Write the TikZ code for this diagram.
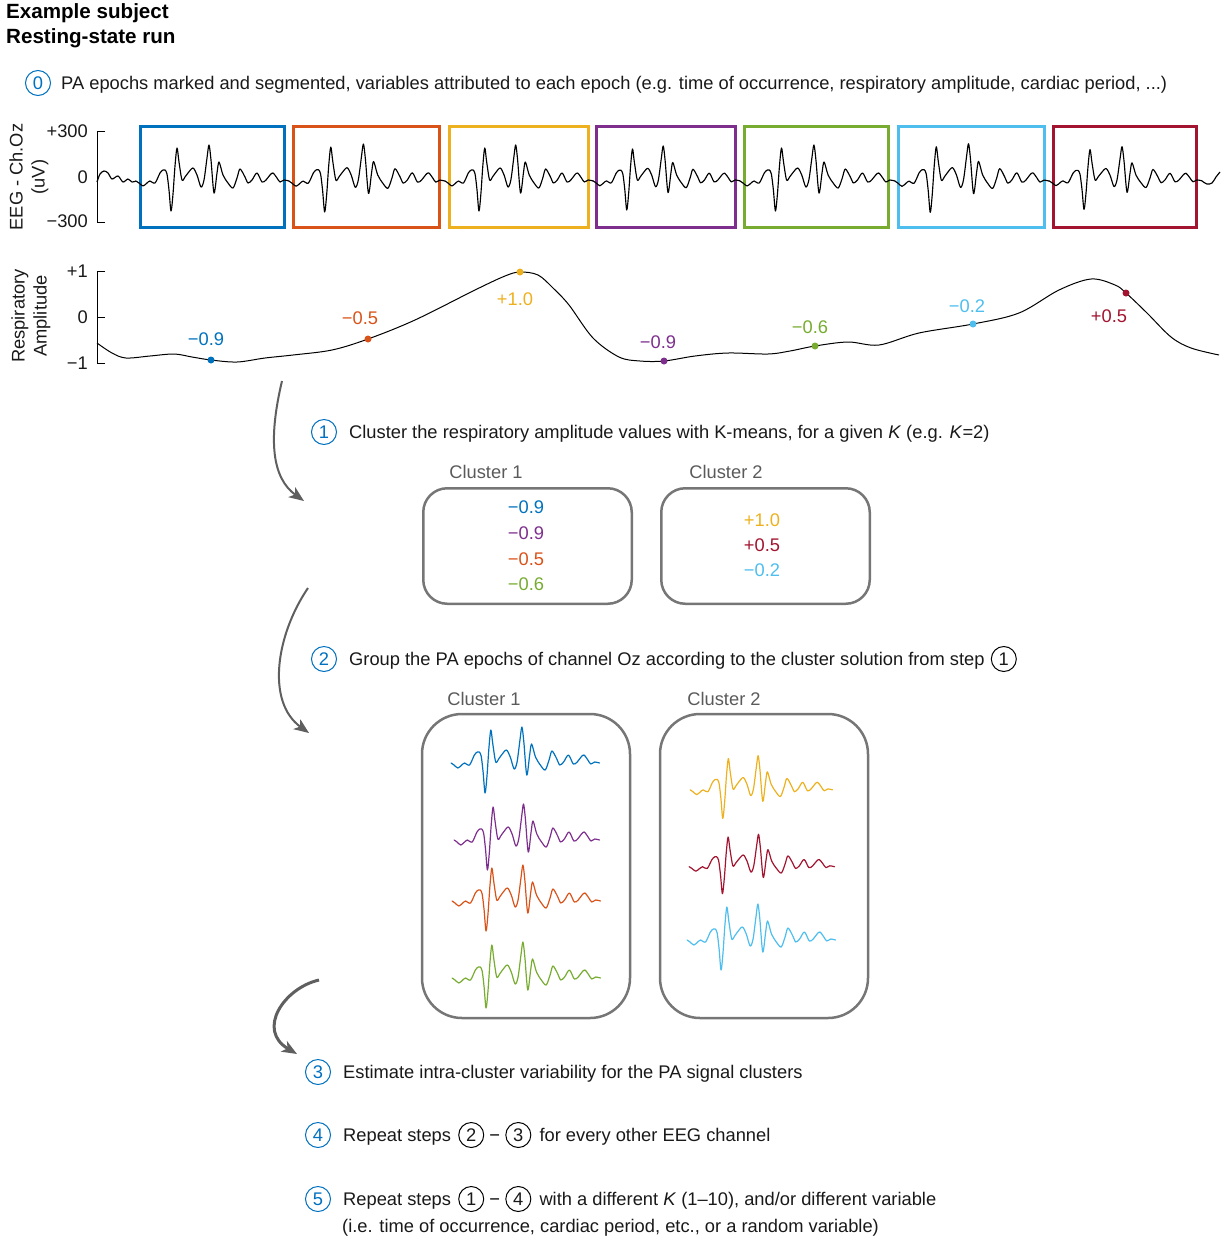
\documentclass[tikz,border=0pt]{standalone}
\usepackage{fontspec}
\setmainfont{Liberation Sans}
\usetikzlibrary{arrows.meta,positioning}
\definecolor{cblue}{RGB}{0,114,189}
\definecolor{corange}{RGB}{217,83,25}
\definecolor{cyellow}{RGB}{237,177,32}
\definecolor{cpurple}{RGB}{126,47,142}
\definecolor{cgreen}{RGB}{119,172,48}
\definecolor{clblue}{RGB}{77,190,238}
\definecolor{cred}{RGB}{162,20,47}
\definecolor{stepblue}{RGB}{0,112,192}
\definecolor{boxgray}{RGB}{118,118,118}
\definecolor{labgray}{RGB}{90,90,90}
\definecolor{arrgray}{RGB}{95,95,95}
\definecolor{txtc}{RGB}{25,25,25}
\tikzset{
  pawave/.pic={\draw[line join=round,line cap=round] plot[smooth,tension=0.5] coordinates {(-3,3) (0,5) (4,8) (8,5) (11,3) (16,5) (21,-5) (24,-8) (26,-8) (28,-4) (30,12) (32,33) (34,16) (36,-12) (38,-30) (40,-16) (43,2) (46,-1) (49,-5) (54,-10) (58,-3) (62,9) (65,2) (68,-20) (70,-33) (72,-18) (75,15) (78,-5) (80,-16) (84,-3) (89,5) (94,10) (98,0) (101,-9) (106,-1) (109,5) (113,2) (118,-5) (123,4) (127,2) (131,-3) (134,-5) (138,0) (141,4) (145,2) (150,3)};}
}
\begin{document}
\begin{tikzpicture}[x=1pt,y=-1pt,
  font=\fontsize{18.3}{22}\selectfont,
  txt/.style={inner sep=0pt, anchor=west, text height=13.1pt, text depth=0pt, text=txtc},
  ctxt/.style={inner sep=0pt, text height=13.1pt, text depth=0pt},
  stepc/.style={circle, draw=stepblue, text=stepblue, line width=1pt, minimum size=25pt, inner sep=0pt, text height=13.1pt, text depth=0pt},
  refc/.style={circle, draw=black, text=txtc, line width=1pt, minimum size=25pt, inner sep=0pt, text height=13.1pt, text depth=0pt},
  epoch/.style={draw, line width=3pt, minimum height=101pt, inner sep=0pt},
  cbox/.style={draw=boxgray, line width=2.5pt, inner sep=0pt},
  dot/.style={circle, inner sep=0pt, minimum size=7pt},
  axis/.style={line width=1pt, black},
  flow/.style={draw=arrgray, line width=2pt, -{Stealth[length=15pt,width=12pt,inset=4pt]}},
  wave/.style={line width=1.15pt},
  cwave/.style={line width=1.2pt}
]
\path[use as bounding box] (0,0) rectangle (1226,1248);

% title
\node[txt, font=\fontsize{20.6}{24}\selectfont\bfseries, text=black] (t1) at (6,12) {Example subject};
\node[txt, font=\fontsize{20.6}{24}\selectfont\bfseries, text=black] (t2) at (6,37) {Resting-state run};

% step 0
\node[stepc] (c0) at (38,83) {0};
\node[txt] (s0) at (61,83) {PA epochs marked and segmented, variables attributed to each epoch (e.g. time of occurrence, respiratory amplitude, cardiac period, ...)};

% EEG axis
\draw[axis] (105,131) -- (97,131) -- (97,222) -- (105,222);
\node[ctxt, anchor=east, text=txtc] (yl1) at (88,131) {+300};
\node[ctxt, anchor=east, text=txtc] (yl2) at (88,177) {0};
\node[ctxt, anchor=east, text=txtc] (yl3) at (88,221) {−300};
\node[rotate=90, align=center, inner sep=0pt, text=txtc] (eegl) at (29,177) {EEG - Ch.Oz\\(uV)};

% epoch boxes
\node[epoch, draw=cblue, minimum width=144pt] (e1) at (212.5,177) {};
\node[epoch, draw=corange, minimum width=146pt] (e2) at (366.5,177) {};
\node[epoch, draw=cyellow, minimum width=139pt] (e3) at (519,177) {};
\node[epoch, draw=cpurple, minimum width=139pt] (e4) at (666,177) {};
\node[epoch, draw=cgreen, minimum width=144pt] (e5) at (816.5,177) {};
\node[epoch, draw=clblue, minimum width=146pt] (e6) at (971.5,177) {};
\node[epoch, draw=cred, minimum width=143pt] (e7) at (1125,177) {};

% EEG trace
\draw[wave, line join=round] plot[smooth,tension=0.5] coordinates {(97,182) (100,174) (104,171) (108,173) (112,179) (118,176) (123,182) (128,179) (132,182) (136,181)};
\pic[wave, xscale=1.0] at (139,178) {pawave};
\pic[wave, xscale=1.02, yscale=1.03] at (292,178) {pawave};
\pic[wave, xscale=0.967] at (448,178) {pawave};
\pic[wave, xscale=0.96, yscale=0.97] at (596,178) {pawave};
\pic[wave, xscale=1.013] at (743,178) {pawave};
\pic[wave, xscale=1.007, yscale=1.04] at (898,178) {pawave};
\pic[wave, xscale=1.0, yscale=0.95] at (1052,178) {pawave};
\draw[wave, line join=round] plot[smooth,tension=0.5] coordinates {(1202,181) (1207,184) (1212,183) (1216,177) (1220,172)};

% respiratory axis
\draw[axis] (105,271) -- (97,271) -- (97,363) -- (105,363);
\draw[axis] (97,317) -- (105,317);
\node[ctxt, anchor=east, text=txtc] (rl1) at (88,271) {+1};
\node[ctxt, anchor=east, text=txtc] (rl2) at (88,317) {0};
\node[ctxt, anchor=east, text=txtc] (rl3) at (88,363) {−1};
\node[rotate=90, align=center, inner sep=0pt, text=txtc] (respl) at (31,316) {Respiratory\\Amplitude};

\draw[line width=1pt, black] plot[smooth,tension=0.55] coordinates {(97,343) (112,353) (126,358) (150,356) (174,354) (192,357) (211,360) (237,362) (265,358) (293,355) (332,350) (368,339) (415,320) (475,290) (505,276) (520,272) (538,275) (553,288) (569,305) (593,338) (619,357) (640,361) (664,361) (695,356) (728,353) (768,354) (790,351) (815,346) (848,342) (879,345) (919,333) (973,324) (1019,313) (1059,290) (1091,279) (1115,285) (1126,293) (1147,313) (1171,337) (1191,348) (1219,355)};

\node[dot, fill=cblue] (d1) at (211,360) {};
\node[dot, fill=corange] (d2) at (368,339) {};
\node[dot, fill=cyellow] (d3) at (520,272) {};
\node[dot, fill=cpurple] (d4) at (664,361) {};
\node[dot, fill=cgreen] (d5) at (815,346) {};
\node[dot, fill=clblue] (d6) at (973,324) {};
\node[dot, fill=cred] (d7) at (1126,293) {};

\node[ctxt, text=cblue] (v1) at (206,339) {−0.9};
\node[ctxt, text=corange] (v2) at (360,318) {−0.5};
\node[ctxt, text=cyellow] (v3) at (515,299) {+1.0};
\node[ctxt, text=cpurple] (v4) at (658,342) {−0.9};
\node[ctxt, text=cgreen] (v5) at (810,327) {−0.6};
\node[ctxt, text=clblue] (v6) at (967,306) {−0.2};
\node[ctxt, text=cred] (v7) at (1109,316) {+0.5};

% arrows
\coordinate (a1s) at (282,381);
\coordinate (a1e) at (304,501);
\coordinate (a2s) at (308,588);
\coordinate (a2e) at (309,733);
\coordinate (a3s) at (319,980);
\coordinate (a3e) at (297,1054);
\draw[flow] (a1s) .. controls (268,440) and (272,478) .. (a1e);
\draw[flow] (a2s) .. controls (276,635) and (266,702) .. (a2e);
\draw[flow, line width=3pt] (a3s) .. controls (284,988) and (256,1030) .. (a3e);

% step 1
\node[stepc] (c1) at (324,432) {1};
\node[txt] (s1) at (349,432) {Cluster the respiratory amplitude values with K-means, for a given \textit{K} (e.g. \textit{K}=2)};

\node[ctxt, text=labgray] (k1l) at (486,472) {Cluster 1};
\node[ctxt, text=labgray] (k2l) at (726,472) {Cluster 2};
\node[cbox, rounded corners=24pt, minimum width=208.5pt, minimum height=115.5pt] (k1) at (527.5,546) {};
\node[cbox, rounded corners=24pt, minimum width=208.5pt, minimum height=115.5pt] (k2) at (765.5,546) {};
\node[ctxt, text=cblue] (k1a) at (526,507) {−0.9};
\node[ctxt, text=cpurple] (k1b) at (526,533) {−0.9};
\node[ctxt, text=corange] (k1c) at (526,559) {−0.5};
\node[ctxt, text=cgreen] (k1d) at (526,584) {−0.6};
\node[ctxt, text=cyellow] (k2a) at (762,520) {+1.0};
\node[ctxt, text=cred] (k2b) at (762,545) {+0.5};
\node[ctxt, text=clblue] (k2c) at (762,570) {−0.2};

% step 2
\node[stepc] (c2) at (324,659) {2};
\node[txt] (s2) at (349,659) {Group the PA epochs of channel Oz according to the cluster solution from step};
\node[refc, right=6pt of s2] (s2r) {1};

\node[ctxt, text=labgray] (k3l) at (484,699) {Cluster 1};
\node[ctxt, text=labgray] (k4l) at (724,699) {Cluster 2};
\node[cbox, rounded corners=40pt, minimum width=208pt, minimum height=304pt] (k3) at (526,866) {};
\node[cbox, rounded corners=40pt, minimum width=208pt, minimum height=304pt] (k4) at (764,866) {};

\pic[cwave, cblue, xscale=0.97, yscale=1.0] at (454,760) {pawave};
\pic[cwave, cpurple, xscale=0.95, yscale=1.0] at (457,837) {pawave};
\pic[cwave, corange, xscale=0.97, yscale=1.0] at (455,898) {pawave};
\pic[cwave, cgreen, xscale=0.97, yscale=1.0] at (455,975) {pawave};
\pic[cwave, cyellow, xscale=0.93, yscale=0.95] at (693,787) {pawave};
\pic[cwave, cred, xscale=0.95, yscale=0.9] at (692,864) {pawave};
\pic[cwave, clblue, xscale=0.97, yscale=1.0] at (690,937) {pawave};

% step 3
\node[stepc] (c3) at (318,1072) {3};
\node[txt] (s3) at (343,1072) {Estimate intra-cluster variability for the PA signal clusters};

% step 4
\node[stepc] (c4) at (318,1135) {4};
\node[txt] (s4a) at (343,1135) {Repeat steps};
\node[refc, right=7pt of s4a] (s4b) {2};
\node[ctxt, right=5pt of s4b] (s4c) {−};
\node[refc, right=5pt of s4c] (s4d) {3};
\node[txt, right=8pt of s4d] (s4e) {for every other EEG channel};

% step 5
\node[stepc] (c5) at (318,1199) {5};
\node[txt] (s5a) at (343,1199) {Repeat steps};
\node[refc, right=7pt of s5a] (s5b) {1};
\node[ctxt, right=5pt of s5b] (s5c) {−};
\node[refc, right=5pt of s5c] (s5d) {4};
\node[txt, right=8pt of s5d] (s5e) {with a different \textit{K} (1–10), and/or different variable};
\node[txt] (s5f) at (342,1226) {(i.e. time of occurrence, cardiac period, etc., or a random variable)};
\end{tikzpicture}
\end{document}
